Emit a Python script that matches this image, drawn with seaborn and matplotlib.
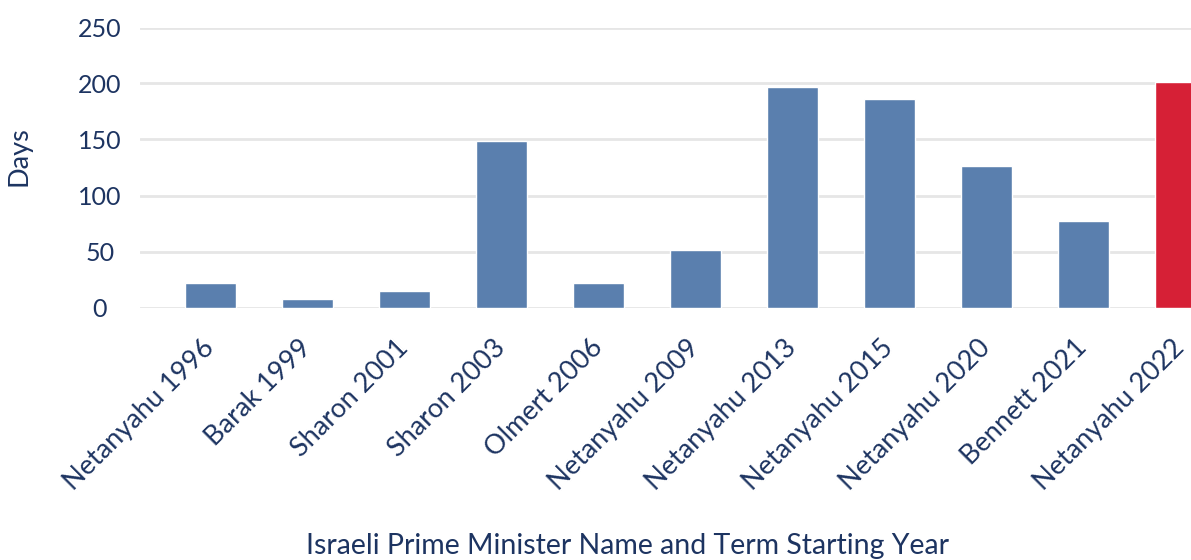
import matplotlib
matplotlib.use("Agg")
import matplotlib.pyplot as plt
import seaborn as sns
import pandas as pd

# 데이터
총리 = [
    "Netanyahu 1996", "Barak 1999", "Sharon 2001", "Sharon 2003", "Olmert 2006",
    "Netanyahu 2009", "Netanyahu 2013", "Netanyahu 2015", "Netanyahu 2020",
    "Bennett 2021", "Netanyahu 2022",
]
일수 = [22, 8, 15, 149, 22, 51, 197, 186, 126, 77, 201]
색상 = ["#5a7fae"] * 10 + ["#d62036"]
y_눈금 = [0, 50, 100, 150, 200, 250]

df = pd.DataFrame({"총리": 총리, "일수": 일수})

sns.set_theme(style="whitegrid")
plt.rcParams["font.family"] = ["Lato", "DejaVu Sans"]
글자색 = "#1d3461"

fig = plt.figure(figsize=(11.91, 5.6), dpi=100)
ax = fig.add_axes([140 / 1191, 1 - 307.5 / 560, 1 - 140 / 1191, 280 / 560])

sns.barplot(data=df, x="총리", y="일수", hue="총리", palette=색상,
            legend=False, width=0.525, saturation=1, ax=ax)

ax.set_ylim(0, 250)
ax.set_xlim(-0.727, 10.11)
ax.set_yticks(y_눈금)
ax.grid(axis="y", color="#e6e6e6", linewidth=2)
ax.grid(axis="x", visible=False)
ax.set_axisbelow(True)
for s in ax.spines.values():
    s.set_visible(False)

ax.tick_params(axis="y", length=0, pad=29, labelsize=18, labelcolor=글자색)
for t in ax.get_yticklabels():
    t.set_ha("center")

ax.tick_params(axis="x", length=0, pad=26, labelsize=19.5, labelcolor=글자색)
ax.set_xticks(range(len(총리)))
ax.set_xticklabels(총리, rotation=45, ha="right", va="center", rotation_mode="anchor")

ax.set_xlabel("Israeli Prime Minister Name and Term Starting Year", fontsize=20.5, color=글자색)
ax.xaxis.set_label_coords((627 - 140) / 1051, -(546 - 307.5) / 280)
ax.xaxis.label.set_va("center")

ax.set_ylabel("Days", fontsize=19.5, color=글자색)
ax.yaxis.set_label_coords((19 - 140) / 1051, (307.5 - 156) / 280)
ax.yaxis.label.set_va("center")

fig.savefig("out.png", dpi=100)
